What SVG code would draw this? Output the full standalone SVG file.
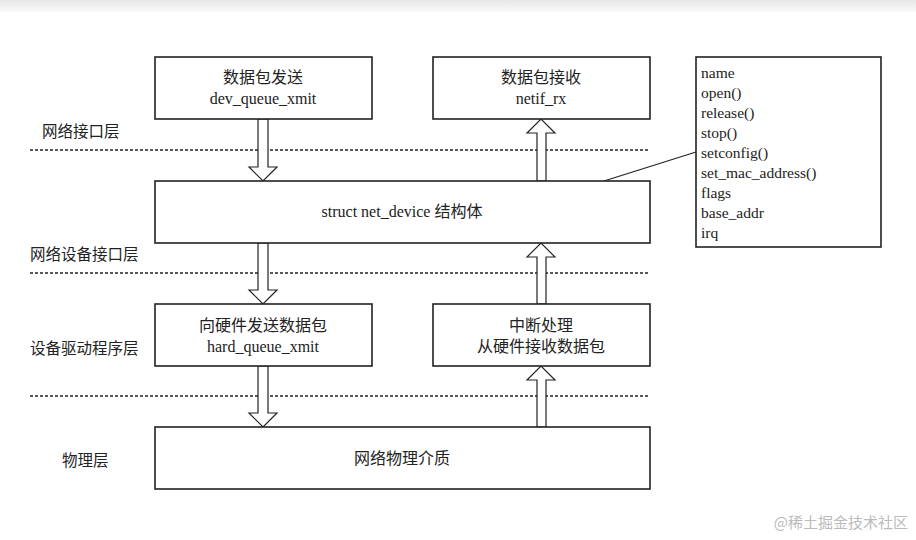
<svg xmlns="http://www.w3.org/2000/svg" width="916" height="540" viewBox="0 0 916 540">
<defs>
<linearGradient id="top" x1="0" y1="0" x2="0" y2="1"><stop offset="0" stop-color="#e6e6e6"/><stop offset="1" stop-color="#fafafa"/></linearGradient>
<style>
.box{fill:#fff;stroke:#222;stroke-width:1.6}
.t{font-family:"Liberation Serif","Noto Sans CJK SC",serif;font-size:16px;fill:#222;text-anchor:middle}
.l{font-family:"Liberation Serif","Noto Sans CJK SC",serif;font-size:15.5px;fill:#222}
.d{stroke:#222;stroke-width:1.5;stroke-dasharray:3,2;fill:none}
.a{fill:#fff;stroke:#222;stroke-width:1.2}
</style>
</defs>
<rect width="916" height="540" fill="#fff"/>
<rect width="916" height="12" fill="url(#top)"/>
<g id="layers">
<line class="d" x1="30" y1="150" x2="650" y2="150"/>
<line class="d" x1="30" y1="273" x2="650" y2="273"/>
<line class="d" x1="30" y1="396" x2="650" y2="396"/>
<text class="l" x="42" y="137">网络接口层</text>
<text class="l" x="30" y="260">网络设备接口层</text>
<text class="l" x="30" y="354">设备驱动程序层</text>
<text class="l" x="62" y="466">物理层</text>
</g>
<g id="connectors">
<polygon class="a" points="258,119 268,119 268,167 277,167 263,181 249,167 258,167"/>
<polygon class="a" points="258,243 268,243 268,290 277,290 263,304 249,290 258,290"/>
<polygon class="a" points="258,366 268,366 268,413 277,413 263,427 249,413 258,413"/>
<polygon class="a" points="537,181 546,181 546,133 555,133 541,119 527,133 537,133"/>
<polygon class="a" points="537,304 546,304 546,257 555,257 541,243 527,257 537,257"/>
<polygon class="a" points="537,427 546,427 546,380 555,380 541,366 527,380 537,380"/>
<line x1="604" y1="181" x2="696" y2="152" stroke="#222" stroke-width="1.2"/>
</g>
<g id="send"><rect class="box" x="155" y="57" width="217" height="62"/><text class="t" x="263" y="83">数据包发送</text><text class="t" x="263" y="104">dev_queue_xmit</text></g>
<g id="recv"><rect class="box" x="433" y="57" width="217" height="62"/><text class="t" x="541" y="83">数据包接收</text><text class="t" x="541" y="104">netif_rx</text></g>
<g id="netdev"><rect class="box" x="155" y="181" width="495" height="62"/><text class="t" x="402" y="217">struct net_device 结构体</text></g>
<g id="hwsend"><rect class="box" x="155" y="304" width="217" height="62"/><text class="t" x="263" y="331">向硬件发送数据包</text><text class="t" x="263" y="352">hard_queue_xmit</text></g>
<g id="irq"><rect class="box" x="433" y="304" width="217" height="62"/><text class="t" x="541" y="331">中断处理</text><text class="t" x="541" y="352">从硬件接收数据包</text></g>
<g id="phys"><rect class="box" x="155" y="427" width="495" height="62"/><text class="t" x="402" y="464">网络物理介质</text></g>
<g id="fields"><rect class="box" x="696" y="57" width="185" height="190" stroke-width="1.2"/>
<text class="l" x="701" y="78">name</text>
<text class="l" x="701" y="98">open()</text>
<text class="l" x="701" y="118">release()</text>
<text class="l" x="701" y="138">stop()</text>
<text class="l" x="701" y="158">setconfig()</text>
<text class="l" x="701" y="178">set_mac_address()</text>
<text class="l" x="701" y="198">flags</text>
<text class="l" x="701" y="218">base_addr</text>
<text class="l" x="701" y="238">irq</text>
</g>
<text x="908" y="528" text-anchor="end" style="font-family:'Noto Sans CJK SC',sans-serif;font-size:15px;fill:#bbb">@稀土掘金技术社区</text>
</svg>
